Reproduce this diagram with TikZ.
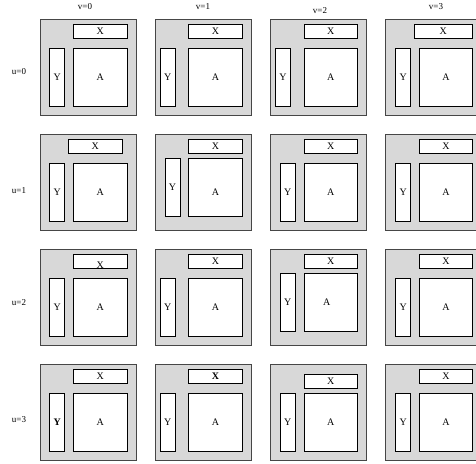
\documentclass[tikz,border=0pt]{standalone}
\usepackage{fontspec}
\setmainfont{Liberation Serif}
\usepackage{tikz}
\definecolor{TileGray}{RGB}{216,216,216}
\definecolor{EdgeGray}{RGB}{70,70,70}
\tikzset{
  tilebg/.style={draw=EdgeGray,fill=TileGray,line width=1pt,inner sep=0pt,
    minimum size=96pt,anchor=north west},
  piece/.style={draw=black,fill=white,line width=0.9pt,inner sep=0pt,anchor=north west},
  xbox/.style={piece,minimum width=53.5pt,minimum height=14.3pt},
  ybox/.style={piece,minimum width=15pt,minimum height=58pt},
  abox/.style={piece,minimum width=53.5pt,minimum height=58pt},
  lab/.style={inner sep=0pt,font=\normalsize},
  axis/.style={inner sep=0pt,font=\small},
  tile x/.style={}, tile y/.style={}, tile a/.style={},
  tile xl/.style={}, tile yl/.style={}, tile al/.style={},
  tile/.pic={
    \node[tilebg] (-f) at (0,0) {};
    \node[xbox,tile x] (-x) at (33.5,4.6) {};
    \node[ybox,tile y] (-y) at (9.8,28.5) {};
    \node[abox,tile a] (-a) at (33.5,28.5) {};
    \node[lab,tile xl] (-xl) at (-x.center) {X};
    \node[lab,tile yl] (-yl) at (-y.center) {Y};
    \node[lab,tile al] (-al) at (-a.center) {A};
  },
}

\begin{document}
\begin{tikzpicture}[x=1pt,y=-1pt]
\useasboundingbox (0,0) rectangle (476,463);
\clip (0,0) rectangle (476,463);
% column and row headers
\node[axis] (v0) at (85,7) {v=0};
\node[axis] (v1) at (203,7) {v=1};
\node[axis] (v2) at (320,11) {v=2};
\node[axis] (v3) at (436,7) {v=3};
\node[axis] (u0) at (19,72) {u=0};
\node[axis] (u1) at (19,191) {u=1};
\node[axis] (u2) at (19,303) {u=2};
\node[axis] (u3) at (19,420) {u=3};
% row u=0
\pic (t00) at (39.5,19) {tile};
\pic[tile y/.style={xshift=-4.8pt}] (t01) at (154.8,19) {tile};
\pic[tile y/.style={xshift=-4.8pt}] (t02) at (270.1,19) {tile};
\pic[tile x/.style={xshift=-5.2pt,minimum width=58.4pt}] (t03) at (385.4,19) {tile};
% row u=1
\pic[tile x/.style={xshift=-5pt}] (t10) at (39.5,134) {tile};
\pic[tile y/.style={yshift=4.5pt},tile a/.style={yshift=4.5pt},
  tile al/.style={yshift=-4.5pt}] (t11) at (154.8,134) {tile};
\pic (t12) at (270.1,134) {tile};
\pic (t13) at (385.4,134) {tile};
% row u=2
\pic[tile xl/.style={yshift=-4.5pt}] (t20) at (39.5,249) {tile};
\pic[tile y/.style={xshift=-4.8pt}] (t21) at (154.8,249) {tile};
\pic[tile y/.style={yshift=4.5pt},tile a/.style={yshift=4.5pt},
  tile al/.style={xshift=-4pt}] (t22) at (270.1,249) {tile};
\pic (t23) at (385.4,249) {tile};
% row u=3
\pic[tile yl/.style={font=\bfseries}] (t30) at (39.5,364) {tile};
\pic[tile y/.style={xshift=-4.8pt},tile xl/.style={font=\bfseries}] (t31) at (154.8,364) {tile};
\pic[tile x/.style={yshift=-5.3pt}] (t32) at (270.1,364) {tile};
\pic (t33) at (385.4,364) {tile};
\end{tikzpicture}
\end{document}
